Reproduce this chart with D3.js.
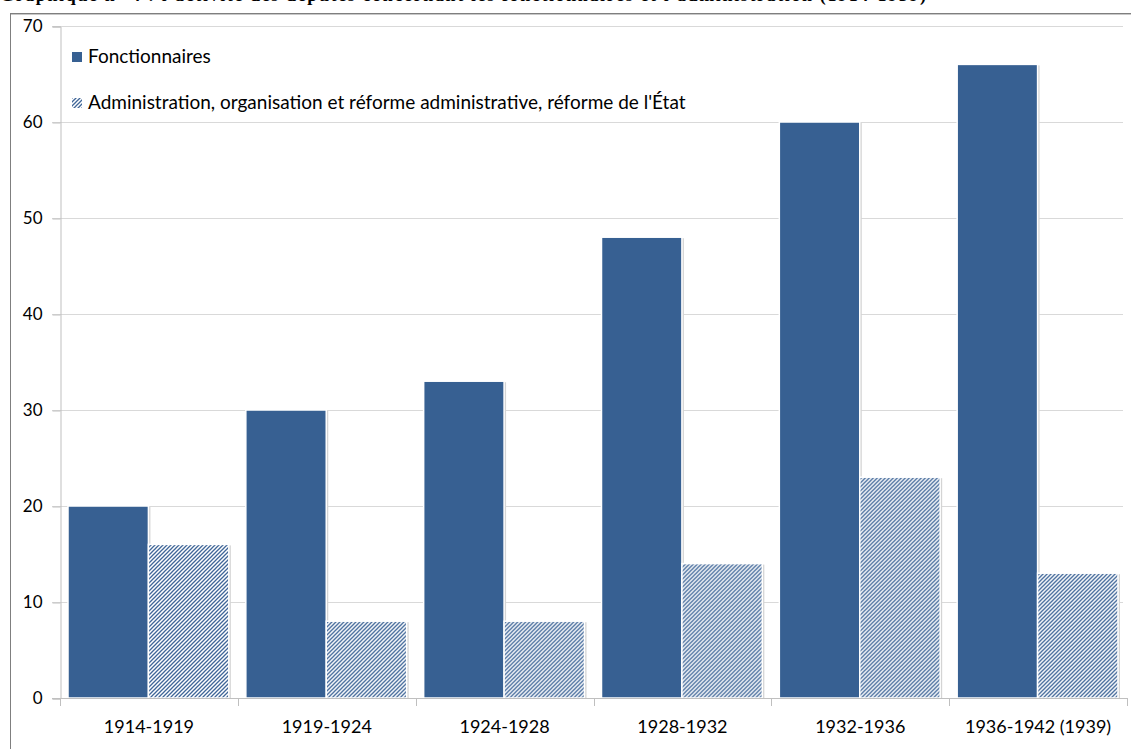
<!DOCTYPE html>
<html><head><meta charset="utf-8">
<script src="https://cdn.jsdelivr.net/npm/d3@7"></script>
<style>body{margin:0;background:#fff;}svg{display:block;}</style>
</head><body>
<script>
const categories = ["1914-1919","1919-1924","1924-1928","1928-1932","1932-1936","1936-1942 (1939)"];
const fonctionnaires = [20,30,33,48,60,66];
const administration = [16,8,8,14,23,13];
const seriesNames = ["Fonctionnaires","Administration, organisation et réforme administrative, réforme de l'État"];
const yTicks = [0,10,20,30,40,50,60,70];
const titleText = "Graphique n° 4 : l'activité des députés concernant les fonctionnaires et l'administration (1914-1939)";

const W = 1131, H = 749;
const font = "Lato, 'Open Sans', sans-serif";
const darkBlue = "#376092";

const svg = d3.select("body").append("svg").attr("width", W).attr("height", H);
const defs = svg.append("defs");
const pat = defs.append("pattern").attr("id","hatch").attr("patternUnits","userSpaceOnUse")
  .attr("width",4).attr("height",4);
pat.append("rect").attr("width",4).attr("height",4).attr("fill","#ffffff");
pat.append("path").attr("d","M-1,1 l2,-2 M0,4 l4,-4 M3,5 l2,-2")
  .attr("stroke","#3f6698").attr("stroke-width",1.3);

// title (clipped at top in original)
svg.append("text").attr("x",0).attr("y",1).attr("font-family","'Liberation Serif', serif")
  .attr("font-weight","bold").attr("font-size",18).attr("fill","#000")
  .attr("textLength",926).attr("lengthAdjust","spacing").text(titleText);

// outer frame
svg.append("line").attr("x1",10.5).attr("x2",10.5).attr("y1",13).attr("y2",H).attr("stroke","#7f7f7f");
svg.append("line").attr("x1",10).attr("x2",W).attr("y1",13.5).attr("y2",13.5).attr("stroke","#7f7f7f");
svg.append("line").attr("x1",11).attr("x2",W).attr("y1",14.5).attr("y2",14.5).attr("stroke","#c8c8c8");

const x = d3.scaleBand().domain(categories).range([60,1127]).padding(0);
const x1 = d3.scaleBand().domain([0,1]).range([8, x.bandwidth()-9]).padding(0);
const y = d3.scaleLinear().domain([0,70]).range([698,26]);

// gridlines
svg.append("g").selectAll("line").data(yTicks.filter(d=>d>0)).join("line")
  .attr("x1",52).attr("x2",1123).attr("y1",d=>Math.round(y(d))+0.5).attr("y2",d=>Math.round(y(d))+0.5)
  .attr("stroke","#d9d9d9");

// y axis
const yAxis = d3.axisLeft(y).tickValues(yTicks).tickSize(8).tickPadding(10).tickFormat(d3.format("d"));
const gy = svg.append("g").attr("transform","translate(60.5,0.5)").call(yAxis);
gy.select(".domain").attr("stroke","#bfbfbf");
gy.selectAll(".tick line").attr("stroke","#bfbfbf");
gy.selectAll("text").attr("font-family",font).attr("font-size",17).attr("fill","#000");

// bars
const data = categories.map((c,i)=>({c, vals:[fonctionnaires[i], administration[i]]}));
const groups = svg.append("g").selectAll("g").data(data).join("g")
  .attr("transform",d=>`translate(${x(d.c)},0)`);
groups.selectAll("rect.sh").data(d=>d.vals.map((v,k)=>({v,k}))).join("rect").attr("class","sh")
  .attr("x",d=>x1(d.k)+2).attr("y",d=>y(d.v)+1).attr("width",x1.bandwidth())
  .attr("height",d=>y(0)-y(d.v)-1).attr("fill","#d4d4d4");
groups.selectAll("rect.bar").data(d=>d.vals.map((v,k)=>({v,k}))).join("rect").attr("class","bar")
  .attr("x",d=>x1(d.k)).attr("y",d=>y(d.v)).attr("width",x1.bandwidth())
  .attr("height",d=>y(0)-y(d.v))
  .attr("fill",d=>d.k===0?darkBlue:"url(#hatch)")
  .attr("stroke","#ffffff").attr("stroke-width",1.5);

// x axis
const xAxis = d3.axisBottom(x).tickSize(0).tickPadding(22);
const gx = svg.append("g").attr("transform","translate(0,698.5)").call(xAxis);
gx.select(".domain").attr("stroke","#bfbfbf").attr("d","M52,0H1127");
gx.selectAll("text").attr("font-family",font).attr("font-size",18).attr("fill","#000");
svg.append("g").selectAll("line").data(d3.range(categories.length+1)).join("line")
  .attr("x1",i=>Math.round(60+i*x.step())+0.5).attr("x2",i=>Math.round(60+i*x.step())+0.5)
  .attr("y1",698).attr("y2",706).attr("stroke","#bfbfbf");

// legend
const leg = svg.append("g").selectAll("g").data(seriesNames).join("g")
  .attr("transform",(d,i)=>`translate(72,${52+i*46})`);
leg.append("rect").attr("width",10).attr("height",10)
  .attr("fill",(d,i)=>i===0?darkBlue:"url(#hatch)");
leg.append("text").attr("x",16).attr("y",11).attr("font-family",font).attr("font-size",19)
  .attr("fill","#000").text(d=>d);
</script>
</body></html>
